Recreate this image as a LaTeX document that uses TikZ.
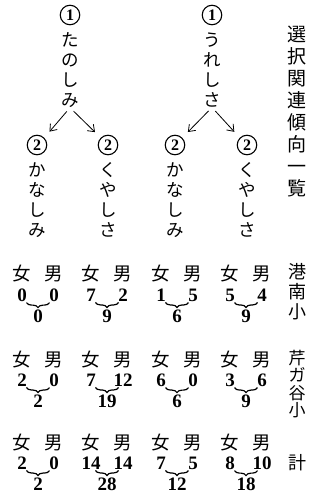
\documentclass[tikz,border=0pt]{standalone}
\usepackage{fontspec}
\newfontfamily\jpfont{Noto Sans CJK JP}
\newfontfamily\digitfont{Liberation Serif}
\usetikzlibrary{positioning,decorations.pathreplacing,arrows.meta}

\begin{document}
\begin{tikzpicture}[x=1pt,y=-1pt]

    \tikzset{
      kana/.style={
        font=\fontsize{17.5}{20}\jpfont,
        align=center,
        inner sep=0pt,
      },
      circnum/.style={
        circle,
        draw,
        line width=1.1pt,
        inner sep=0pt,
        minimum size=19.5pt,
        font=\fontsize{16}{16}\digitfont\bfseries,
      },
      arr/.style={
        -{Straight Barb[length=6pt,width=9pt]},
        line width=0.8pt,
        shorten <=5pt,
        shorten >=8pt,
      },
      sex/.style={
        font=\fontsize{18.5}{18.5}\jpfont,
        inner sep=0pt,
      },
      num/.style={
        font=\fontsize{19}{19}\digitfont\bfseries,
        inner sep=1pt,
      },
      bracket/.style={
        decorate,
        decoration={brace,mirror,amplitude=5pt},
        line width=1.2pt,
      },
    }
    \useasboundingbox (0,0) rectangle (320,497);

    % tanoshimi
    \node[circnum] (top1) at (70,15) {1};
    \node[kana] (word1) at (70,70) {た\\の\\し\\み};
    \node[circnum] (sub1a) at (37,145) {2};
    \node[circnum] (sub1b) at (108,145) {2};
    \node[kana] (word1a) at (37,200) {か\\な\\し\\み};
    \node[kana] (word1b) at (108,200) {く\\や\\し\\さ};
    \draw[arr] (word1.south) -- (sub1a.north east);
    \draw[arr] (word1.south) -- (sub1b.north west);

    % ureshisa
    \node[circnum] (top2) at (212,15) {1};
    \node[kana] (word2) at (212,70) {う\\れ\\し\\さ};
    \node[circnum] (sub2a) at (175,145) {2};
    \node[circnum] (sub2b) at (247,145) {2};
    \node[kana] (word2a) at (175,200) {か\\な\\し\\み};
    \node[kana] (word2b) at (247,200) {く\\や\\し\\さ};
    \draw[arr] (word2.south) -- (sub2a.north east);
    \draw[arr] (word2.south) -- (sub2b.north west);

    \node[kana,font=\fontsize{19}{22}\jpfont] (title) at (297,112) {選\\択\\関\\連\\傾\\向\\一\\覧};

    % schools
    \node[kana,font=\fontsize{18}{20}\jpfont] (konan) at (297,292) {港\\南\\小};
    \node[kana,font=\fontsize{17}{17.5}\jpfont] (serigaya) at (297,384) {芹\\ガ\\谷\\小};
    \node[kana,font=\fontsize{18}{20}\jpfont] (total) at (297,463) {計};

    \foreach \gx/\f/\m/\s [count=\i] in {38/0/0/0,107/7/2/9,177/1/5/6,246/5/4/9}{
      \node[sex] (kngl\i) at (\gx-16,274) {女};
      \node[sex] (knbl\i) at (\gx+16,274) {男};
      \node[num] (kng\i) at (\gx-16,295) {\f};
      \node[num] (knb\i) at (\gx+16,295) {\m};
      \node[num] (kns\i) at (\gx,316) {\s};
      \draw[bracket] ([xshift=4.5pt]kng\i.south) -- ([xshift=-4.5pt]knb\i.south);
    }

    \foreach \gx/\f/\m/\s [count=\i] in {38/2/0/2,107/7/12/19,177/6/0/6,246/3/6/9}{
      \node[sex] (sggl\i) at (\gx-16,360) {女};
      \node[sex] (sgbl\i) at (\gx+16,360) {男};
      \node[num] (sgg\i) at (\gx-16,380) {\f};
      \node[num] (sgb\i) at (\gx+16,380) {\m};
      \node[num] (sgs\i) at (\gx,401) {\s};
      \draw[bracket] ([xshift=4.5pt]sgg\i.south) -- ([xshift=-4.5pt]sgb\i.south);
    }

    \foreach \gx/\f/\m/\s [count=\i] in {38/2/0/2,107/14/14/28,177/7/5/12,246/8/10/18}{
      \node[sex] (totgl\i) at (\gx-16,443) {女};
      \node[sex] (totbl\i) at (\gx+16,443) {男};
      \node[num] (totg\i) at (\gx-16,463) {\f};
      \node[num] (totb\i) at (\gx+16,463) {\m};
      \node[num] (tots\i) at (\gx,484) {\s};
      \draw[bracket] ([xshift=4.5pt]totg\i.south) -- ([xshift=-4.5pt]totb\i.south);
    }

\end{tikzpicture}
\end{document}
